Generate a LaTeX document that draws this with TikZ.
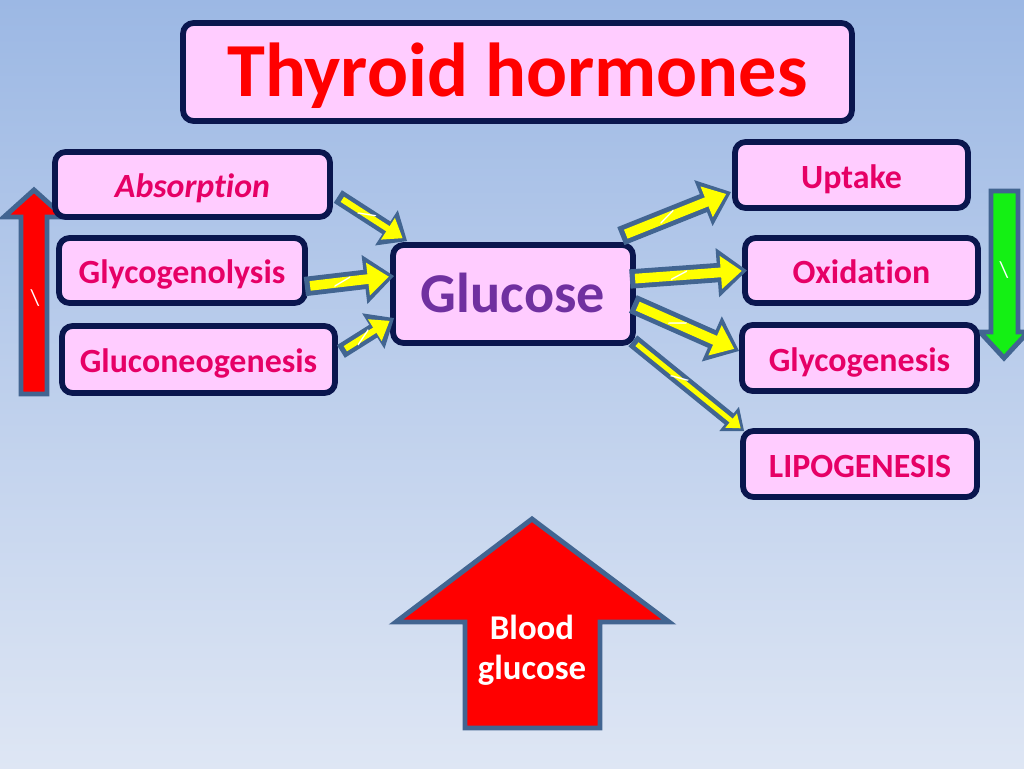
\documentclass[tikz,border=0pt]{standalone}
\usepackage{fontspec}
\setmainfont{Carlito}[Ligatures=NoCommon]
\usetikzlibrary{arrows.meta, positioning}

\definecolor{bgtop}{RGB}{156,184,228}
\definecolor{bgbot}{RGB}{222,230,244}
\definecolor{boxline}{RGB}{10,22,78}
\definecolor{boxfill}{RGB}{255,204,255}
\definecolor{boxtext}{RGB}{230,0,102}
\definecolor{arrowedge}{RGB}{66,101,145}
\definecolor{arrowfill}{RGB}{255,255,0}
\definecolor{glucpurple}{RGB}{112,48,160}
\definecolor{downgreen}{RGB}{20,240,20}

\tikzset{
  stepbox/.style={draw=boxline, fill=boxfill, line width=3.3pt, rounded corners=6pt,
    text=boxtext, inner sep=0pt, text height=15pt, text depth=0pt,
    font=\fontsize{19.3}{22}\selectfont\bfseries},
  blockarrow/.style={draw=arrowedge, line width=2.8pt, line join=miter},
  tick/.style={sloped, rotate=90, text=white, inner sep=0pt, font=\fontsize{13}{13}\selectfont},
  big edge/.style={draw=arrowedge, line width=11pt, -{Triangle[length=17pt, width=27pt]}},
  big fill/.style={draw=arrowfill, line width=5.5pt, shorten <=3pt, shorten >=3pt,
    -{Triangle[length=12pt, width=18pt]}},
  slim edge/.style={draw=arrowedge, line width=8.5pt, -{Triangle[length=14pt, width=23pt]}},
  slim fill/.style={draw=arrowfill, line width=3.5pt, shorten <=3pt, shorten >=3pt,
    -{Triangle[length=10pt, width=14pt]}},
  thin edge/.style={draw=arrowedge, line width=8pt, -{Triangle[length=11pt, width=17pt]}},
  thin fill/.style={draw=arrowfill, line width=2.8pt, shorten <=3pt, shorten >=2.5pt,
    -{Triangle[length=7pt, width=10pt]}},
}

% yellow block arrow from #2 to #3, size #1
\newcommand{\yarrow}[3]{%
  \draw[#1 edge] #2 -- #3;
  \draw[#1 fill] #2 -- #3 node[pos=.42, tick] {\textbackslash};
}

\begin{document}
\begin{tikzpicture}[x=0.02cm, y=-0.02cm]
\useasboundingbox (0,0) rectangle (1024,768);
\shade[top color=bgtop, bottom color=bgbot] (0,0) rectangle (1024,768);

% up and down arrows at the sides
\draw[blockarrow, fill=red] (21,394) -- (21,217) -- (4,217) -- (34,190) -- (64,217)
  -- (47,217) -- (47,394) -- cycle;
\node[text=white, font=\fontsize{13}{13}\selectfont] (upmark) at (35,298) {\textbackslash};
\draw[blockarrow, fill=downgreen] (991,191) -- (1018,191) -- (1018,332) -- (1028,332)
  -- (1004,358) -- (980,332) -- (991,332) -- cycle;
\node[text=white, font=\fontsize{13}{13}\selectfont] (downmark) at (1004,270) {\textbackslash};

% boxes
\node[stepbox, minimum width=13.38cm, minimum height=1.96cm, text=red, text height=28pt,
  font=\fontsize{43.5}{48}\selectfont\bfseries] (title) at (517.5,72) {Thyroid hormones};
\node[stepbox, minimum width=5.5cm, minimum height=1.3cm,
  font=\fontsize{19.3}{22}\selectfont\bfseries\itshape] (abs) at (192.5,184.5) {Absorption};
\node[stepbox, minimum width=4.92cm, minimum height=1.3cm] (glyl) at (182,270.5) {Glycogenolysis};
\node[stepbox, minimum width=5.46cm, minimum height=1.34cm] (glng) at (198.5,359.5) {Gluconeogenesis};
\node[stepbox, minimum width=4.8cm, minimum height=1.96cm, text=glucpurple, text height=21pt,
  font=\fontsize{32}{36}\selectfont\bfseries] (gluc) at (513,294) {Glucose};
\node[stepbox, minimum width=4.66cm, minimum height=1.32cm] (upt) at (851.5,175) {Uptake};
\node[stepbox, minimum width=4.66cm, minimum height=1.3cm] (oxi) at (861.5,270.5) {Oxidation};
\node[stepbox, minimum width=4.7cm, minimum height=1.32cm] (glyg) at (859.5,358) {Glycogenesis};
\node[stepbox, minimum width=4.68cm, minimum height=1.32cm] (lipo) at (860,464) {LIPOGENESIS};

% into glucose
\yarrow{slim}{([shift={(5,12)}]abs.east)}{([shift={(17,-1)}]gluc.north west)}
\yarrow{big}{([shift={(-3,16)}]glyl.east)}{([shift={(4,-18)}]gluc.west)}
\yarrow{slim}{([shift={(3,-8)}]glng.east)}{([shift={(4,24)}]gluc.west)}

% out of glucose
\yarrow{big}{([shift={(-15,-6)}]gluc.north east)}{([shift={(-1,17)}]upt.west)}
\yarrow{big}{([shift={(-6,-15)}]gluc.east)}{([shift={(5,0)}]oxi.west)}
\yarrow{big}{([shift={(-3,10)}]gluc.east)}{([shift={(0,-7)}]glyg.west)}
\yarrow{thin}{([shift={(-3,-5)}]gluc.south east)}{([shift={(4,3)}]lipo.north west)}

% blood glucose
\draw[blockarrow, fill=red] (465,728) -- (465,622) -- (396,622) -- (532,519) -- (669,622)
  -- (600,622) -- (600,728) -- cycle;
\node[text=white, align=center, font=\fontsize{19.8}{23}\selectfont\bfseries]
  (blood) at (532,650) {Blood\\glucose};
\end{tikzpicture}
\end{document}
